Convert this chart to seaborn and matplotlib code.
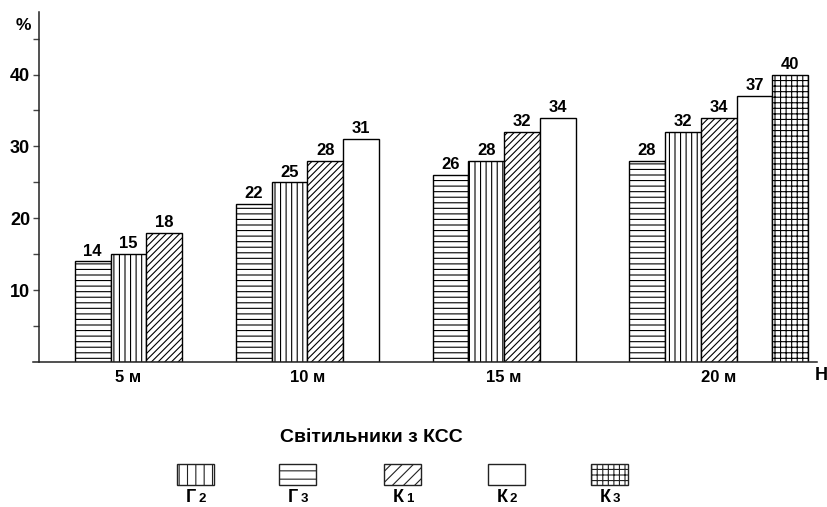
import pandas as pd
import seaborn as sns
import matplotlib.pyplot as plt
from matplotlib.patches import Rectangle

# data
heights = ['5 м', '10 м', '15 м', '20 м']
bar_order = ['Г3', 'Г2', 'К1', 'К2', 'К3']   # order of bars inside a group
g3 = [14, 22, 26, 28]
g2 = [15, 25, 28, 32]
k1 = [18, 28, 32, 34]
k2 = [None, 31, 34, 37]
k3 = [None, None, None, 40]
values = {'Г3': g3, 'Г2': g2, 'К1': k1, 'К2': k2, 'К3': k3}

legend_order = ['Г2', 'Г3', 'К1', 'К2', 'К3']
legend_parts = {'Г2': ('Г', '2'), 'Г3': ('Г', '3'), 'К1': ('К', '1'),
                'К2': ('К', '2'), 'К3': ('К', '3')}
hatches = {'Г2': '|||', 'Г3': '---', 'К1': '/////', 'К2': '', 'К3': '+++'}
legend_hatches = {'Г2': '||', 'Г3': '--', 'К1': '///', 'К2': '', 'К3': '+++'}

# bars are packed one after another, groups separated by a gap
gap = 1.5
rows = []
offset = 1.0
for gi, h in enumerate(heights):
    k = 0
    for s in bar_order:
        v = values[s][gi]
        if v is None:
            continue
        rows.append({'height': h, 'series': s, 'value': v, 'pos': offset + k + 0.5})
        k += 1
    offset += k + gap
df = pd.DataFrame(rows)

sns.set_style('white')
plt.rcParams['font.family'] = ['Liberation Sans', 'DejaVu Sans']
plt.rcParams['font.weight'] = 'bold'
plt.rcParams['text.color'] = 'black'
plt.rcParams['xtick.color'] = 'black'
plt.rcParams['ytick.color'] = 'black'
plt.rcParams['hatch.linewidth'] = 0.8

fig = plt.figure(figsize=(8.28, 5.07), dpi=100)
ax = fig.add_axes([33 / 828, 145 / 507, 784 / 828, 350 / 507])

sns.barplot(data=df, x='pos', y='value', native_scale=True, orient='x', width=1,
            color='white', saturation=1, edgecolor='black', linewidth=1,
            errorbar=None, ax=ax)

for patch, s in zip(ax.patches, df.sort_values('pos')['series']):
    patch.set_hatch(hatches[s])

ax.bar_label(ax.containers[0], fmt='%d', padding=2, fontsize=12, fontweight='bold',
             color='black')

ax.set_xlim(-0.17, 21.75)
ax.set_ylim(0, 48.7)
ax.spines['left'].set_position(('data', 0))
for side in ['top', 'right']:
    ax.spines[side].set_visible(False)
for side in ['left', 'bottom']:
    ax.spines[side].set_color('#222222')
    ax.spines[side].set_linewidth(1.1)

ax.set_yticks([10, 20, 30, 40])
ax.set_yticks([5, 15, 25, 35, 45], minor=True)
ax.tick_params(axis='y', which='both', direction='out', length=4.5, width=1,
               color='#444444', left=True, labelsize=13, pad=2, labelcolor='black')
centers = df.groupby('height', sort=False)['pos'].mean()
ax.set_xticks(centers.values)
ax.set_xticklabels(centers.index, fontsize=12, fontweight='bold')
ax.tick_params(axis='x', length=0, pad=6, labelcolor='black')
ax.set_xlabel('')
ax.set_ylabel('')

fig.text(23 / 828, 1 - 25 / 507, '%', ha='center', va='center', fontsize=12.5, fontweight='bold')
fig.text(821 / 828, 1 - 375 / 507, 'Н', ha='center', va='center', fontsize=13, fontweight='bold')

# legend underneath
fig.text(371 / 828, 1 - 437 / 507, 'Світильники з КСС', ha='center', va='center',
         fontsize=14, fontweight='bold')
leg_x = [195.5, 297.5, 403, 507, 610]
for s, cx in zip(legend_order, leg_x):
    fig.patches.append(Rectangle(((cx - 18.5) / 828, 1 - 485 / 507), 37 / 828, 21 / 507,
                                 transform=fig.transFigure, facecolor='white',
                                 edgecolor='#222222', linewidth=1,
                                 hatch=legend_hatches[s]))
    letter, num = legend_parts[s]
    fig.text((cx + 1) / 828, 1 - 498 / 507, letter, ha='right', va='center',
             fontsize=13, fontweight='bold')
    fig.text((cx + 3) / 828, 1 - 499 / 507, num, ha='left', va='center',
             fontsize=9.5, fontweight='bold')

fig.savefig('out.png', dpi=100)
